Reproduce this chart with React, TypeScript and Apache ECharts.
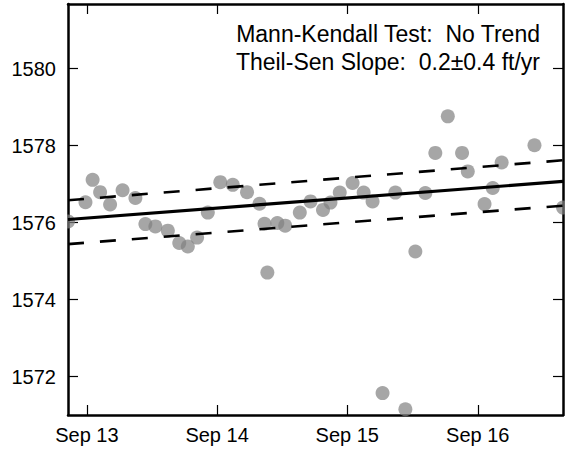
import React, { useEffect, useRef } from "react";
import * as echarts from "echarts";

const sampleDates = [
  "2013-07-10", "2013-08-28", "2013-09-17", "2013-10-08", "2013-11-05", "2013-12-10",
  "2014-01-15", "2014-02-12", "2014-03-12", "2014-04-16", "2014-05-18", "2014-06-11",
  "2014-07-07", "2014-08-06", "2014-09-10", "2014-10-15", "2014-11-24", "2014-12-29",
  "2015-01-12", "2015-01-20", "2015-02-17", "2015-03-11", "2015-04-21", "2015-05-21",
  "2015-06-25", "2015-07-16", "2015-08-11", "2015-09-16", "2015-10-17", "2015-11-11",
  "2015-12-09", "2016-01-14", "2016-02-11", "2016-03-10", "2016-04-07", "2016-05-05",
  "2016-06-09", "2016-07-19", "2016-08-04", "2016-09-20", "2016-10-13", "2016-11-07",
  "2017-02-07", "2017-04-28",
];
const waterLevels = [
  1576.03, 1576.53, 1577.11, 1576.79, 1576.47, 1576.84,
  1576.64, 1575.96, 1575.90, 1575.79, 1575.47, 1575.38,
  1575.61, 1576.26, 1577.05, 1576.98, 1576.79, 1576.49,
  1575.97, 1574.70, 1575.99, 1575.92, 1576.26, 1576.55,
  1576.33, 1576.52, 1576.78, 1577.03, 1576.78, 1576.55,
  1571.57, 1576.78, 1571.15, 1575.25, 1576.77, 1577.81,
  1578.76, 1577.81, 1577.33, 1576.48, 1576.90, 1577.56,
  1578.01, 1576.39,
];
// Theil-Sen trend and confidence bounds: values at start and end dates
const lineDates = ["2013-07-10", "2017-04-28"];
const trendLine = [1576.08, 1577.07];
const upperBound = [1576.58, 1577.62];
const lowerBound = [1575.44, 1576.44];

const xTickDates = ["2013-09-01", "2014-09-01", "2015-09-01", "2016-09-01"];
const yTicks = [1572, 1574, 1576, 1578, 1580];
const yMin = 1571.0;
const yMax = 1581.68;

const annotation1 = "Mann-Kendall Test:  No Trend";
const annotation2 = "Theil-Sen Slope:  0.2\u00b10.4 ft/yr";

const MONTHS = ["Jan", "Feb", "Mar", "Apr", "May", "Jun", "Jul", "Aug", "Sep", "Oct", "Nov", "Dec"];
const toTs = (s: string) => {
  const [y, m, d] = s.split("-").map(Number);
  return Date.UTC(y, m - 1, d);
};

export default function App() {
  const ref = useRef<HTMLDivElement>(null);
  useEffect(() => {
    if (!ref.current) return;
    const chart = echarts.init(ref.current, null, { renderer: "svg" });
    const font = "'Liberation Sans', Arial, Helvetica, sans-serif";
    const xMin = toTs(lineDates[0]);
    const xMax = toTs(lineDates[1]);
    const xTicks = xTickDates.map(toTs);
    const tickStyle = { show: true, inside: true, length: 10, lineStyle: { color: "#000", width: 1.2 } };
    const lineOf = (vals: number[]) => lineDates.map((d, i) => [toTs(d), vals[i]]);
    chart.setOption({
      animation: false,
      backgroundColor: "#fff",
      grid: { left: 68, right: 2, top: 4, bottom: 35, containLabel: false },
      xAxis: [
        {
          type: "value",
          min: xMin,
          max: xMax,
          position: "bottom",
          splitLine: { show: false },
          axisLine: { show: true, onZero: false, lineStyle: { color: "#000", width: 2.5 } },
          axisTick: { ...tickStyle, customValues: xTicks },
          axisLabel: {
            customValues: xTicks,
            margin: 10,
            fontSize: 20,
            color: "#000",
            fontFamily: font,
            formatter: (v: number) => {
              const d = new Date(v);
              return MONTHS[d.getUTCMonth()] + " " + String(d.getUTCFullYear()).slice(2);
            },
          },
        },
        {
          type: "value",
          min: xMin,
          max: xMax,
          position: "top",
          splitLine: { show: false },
          axisLine: { show: true, onZero: false, lineStyle: { color: "#000", width: 2.5 } },
          axisTick: { ...tickStyle, customValues: xTicks },
          axisLabel: { show: false },
        },
      ],
      yAxis: [
        {
          type: "value",
          min: yMin,
          max: yMax,
          position: "left",
          splitLine: { show: false },
          axisLine: { show: true, onZero: false, lineStyle: { color: "#000", width: 2.5 } },
          axisTick: { ...tickStyle, customValues: yTicks },
          axisLabel: {
            customValues: yTicks,
            margin: 12,
            fontSize: 20,
            color: "#000",
            fontFamily: font,
            formatter: (v: number) => String(Math.round(v)),
          },
        },
        {
          type: "value",
          min: yMin,
          max: yMax,
          position: "right",
          splitLine: { show: false },
          axisLine: { show: true, onZero: false, lineStyle: { color: "#000", width: 2.5 } },
          axisTick: { ...tickStyle, customValues: yTicks },
          axisLabel: { show: false },
        },
      ],
      series: [
        {
          type: "scatter",
          data: sampleDates.map((d, i) => [toTs(d), waterLevels[i]]),
          symbol: "circle",
          symbolSize: 14,
          itemStyle: { color: "#808080", opacity: 0.7 },
          clip: true,
          z: 2,
        },
        {
          type: "line",
          data: lineOf(trendLine),
          symbol: "none",
          lineStyle: { color: "#000", width: 3.2 },
          z: 3,
        },
        {
          type: "line",
          data: lineOf(upperBound),
          symbol: "none",
          lineStyle: { color: "#000", width: 2.6, type: [16, 16] },
          z: 3,
        },
        {
          type: "line",
          data: lineOf(lowerBound),
          symbol: "none",
          lineStyle: { color: "#000", width: 2.6, type: [16, 16] },
          z: 3,
        },
      ],
      graphic: [
        {
          type: "rect",
          shape: { x: 56, y: 205, width: 11, height: 32 },
          style: { fill: "#fff" },
          z: 50,
        },
        {
          type: "text",
          x: 540,
          y: 34,
          style: {
            text: annotation1,
            fontSize: 23,
            fontFamily: font,
            fill: "#000",
            textAlign: "right",
            textVerticalAlign: "middle",
          },
          z: 60,
        },
        {
          type: "text",
          x: 540,
          y: 62,
          style: {
            text: annotation2,
            fontSize: 23,
            fontFamily: font,
            fill: "#000",
            textAlign: "right",
            textVerticalAlign: "middle",
          },
          z: 60,
        },
      ],
    });
    return () => chart.dispose();
  }, []);
  return (
    <div
      ref={ref}
      style={{ position: "fixed", left: 0, top: 0, width: 565, height: 450, background: "#fff" }}
    />
  );
}
